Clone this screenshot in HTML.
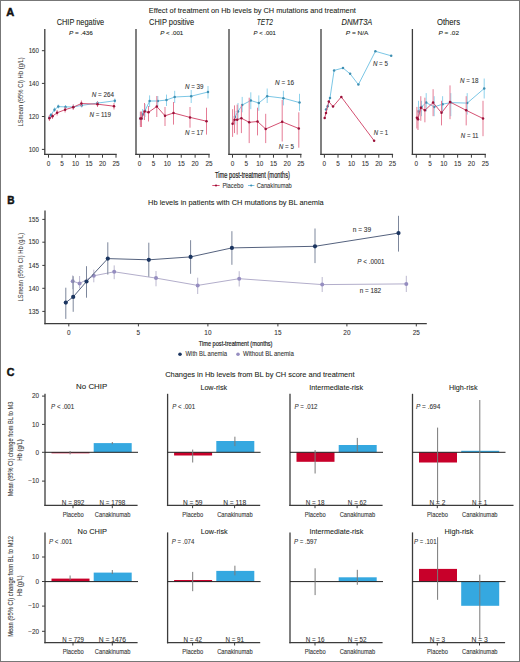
<!DOCTYPE html>
<html><head><meta charset="utf-8"><style>
html,body{margin:0;padding:0;background:#fff;}
svg{display:block;font-family:"Liberation Sans", sans-serif;}
</style></head><body>
<svg width="520" height="662" viewBox="0 0 520 662">
<rect width="520" height="662" fill="#fff"/>
<rect x="0.5" y="0.5" width="519" height="661" fill="none" stroke="#777" stroke-width="1"/>
<text x="6.3" y="15.8" font-size="10.4" text-anchor="start" font-weight="bold" font-style="normal" fill="#111" textLength="8" lengthAdjust="spacingAndGlyphs" stroke="#111" stroke-width="0.45">A</text>
<text x="148.8" y="13.4" font-size="7.7" text-anchor="start" font-weight="normal" font-style="normal" fill="#231f20" textLength="207" lengthAdjust="spacingAndGlyphs" stroke="#231f20" stroke-width="0.15" stroke-opacity="0.6">Effect of treatment on Hb levels by CH mutations and treatment</text>
<text x="56.7" y="24.7" font-size="8.2" text-anchor="start" font-weight="normal" font-style="normal" fill="#231f20" textLength="47.5" lengthAdjust="spacingAndGlyphs" stroke="#231f20" stroke-width="0.15" stroke-opacity="0.6">CHIP negative</text>
<text x="149" y="24.7" font-size="8.2" text-anchor="start" font-weight="normal" font-style="normal" fill="#231f20" textLength="45.2" lengthAdjust="spacingAndGlyphs" stroke="#231f20" stroke-width="0.15" stroke-opacity="0.6">CHIP positive</text>
<text x="256.8" y="24.7" font-size="8.2" text-anchor="start" font-weight="normal" font-style="italic" fill="#231f20" textLength="16.1" lengthAdjust="spacingAndGlyphs" stroke="#231f20" stroke-width="0.15" stroke-opacity="0.6">TET2</text>
<text x="341.5" y="24.7" font-size="8.2" text-anchor="start" font-weight="normal" font-style="italic" fill="#231f20" textLength="30.8" lengthAdjust="spacingAndGlyphs" stroke="#231f20" stroke-width="0.15" stroke-opacity="0.6">DNMT3A</text>
<text x="436.9" y="24.7" font-size="8.2" text-anchor="start" font-weight="normal" font-style="normal" fill="#231f20" textLength="23.1" lengthAdjust="spacingAndGlyphs" stroke="#231f20" stroke-width="0.15" stroke-opacity="0.6">Others</text>
<text x="69" y="34.8" font-size="6.2" text-anchor="start" font-weight="normal" font-style="normal" fill="#231f20" textLength="23.9" lengthAdjust="spacingAndGlyphs" stroke="#231f20" stroke-width="0.15" stroke-opacity="0.6"><tspan font-style="italic">P</tspan> = .436</text>
<text x="160.2" y="34.8" font-size="6.2" text-anchor="start" font-weight="normal" font-style="normal" fill="#231f20" textLength="23.1" lengthAdjust="spacingAndGlyphs" stroke="#231f20" stroke-width="0.15" stroke-opacity="0.6"><tspan font-style="italic">P</tspan> &lt; .001</text>
<text x="253.6" y="34.8" font-size="6.2" text-anchor="start" font-weight="normal" font-style="normal" fill="#231f20" textLength="22.3" lengthAdjust="spacingAndGlyphs" stroke="#231f20" stroke-width="0.15" stroke-opacity="0.6"><tspan font-style="italic">P</tspan> &lt; .001</text>
<text x="345.8" y="34.8" font-size="6.2" text-anchor="start" font-weight="normal" font-style="normal" fill="#231f20" textLength="22.7" lengthAdjust="spacingAndGlyphs" stroke="#231f20" stroke-width="0.15" stroke-opacity="0.6"><tspan font-style="italic">P</tspan> = N/A</text>
<text x="438.5" y="34.8" font-size="6.2" text-anchor="start" font-weight="normal" font-style="normal" fill="#231f20" textLength="20.5" lengthAdjust="spacingAndGlyphs" stroke="#231f20" stroke-width="0.15" stroke-opacity="0.6"><tspan font-style="italic">P</tspan> = .02</text>
<line x1="44.8" y1="29" x2="44.8" y2="154.95000000000002" stroke="#3c3c3c" stroke-width="1.3"/>
<line x1="44.15" y1="154.3" x2="116.7" y2="154.3" stroke="#3c3c3c" stroke-width="1.3"/>
<line x1="48.5" y1="154.3" x2="48.5" y2="157.70000000000002" stroke="#3c3c3c" stroke-width="1.0"/>
<text x="48.5" y="166.0" font-size="6.4" text-anchor="middle" font-weight="normal" font-style="normal" fill="#333" stroke="#333" stroke-width="0.15" stroke-opacity="0.6">0</text>
<line x1="62.0" y1="154.3" x2="62.0" y2="157.70000000000002" stroke="#3c3c3c" stroke-width="1.0"/>
<text x="62.0" y="166.0" font-size="6.4" text-anchor="middle" font-weight="normal" font-style="normal" fill="#333" stroke="#333" stroke-width="0.15" stroke-opacity="0.6">5</text>
<line x1="75.5" y1="154.3" x2="75.5" y2="157.70000000000002" stroke="#3c3c3c" stroke-width="1.0"/>
<text x="75.5" y="166.0" font-size="6.4" text-anchor="middle" font-weight="normal" font-style="normal" fill="#333" stroke="#333" stroke-width="0.15" stroke-opacity="0.6">10</text>
<line x1="89.0" y1="154.3" x2="89.0" y2="157.70000000000002" stroke="#3c3c3c" stroke-width="1.0"/>
<text x="89.0" y="166.0" font-size="6.4" text-anchor="middle" font-weight="normal" font-style="normal" fill="#333" stroke="#333" stroke-width="0.15" stroke-opacity="0.6">15</text>
<line x1="102.5" y1="154.3" x2="102.5" y2="157.70000000000002" stroke="#3c3c3c" stroke-width="1.0"/>
<text x="102.5" y="166.0" font-size="6.4" text-anchor="middle" font-weight="normal" font-style="normal" fill="#333" stroke="#333" stroke-width="0.15" stroke-opacity="0.6">20</text>
<line x1="116.0" y1="154.3" x2="116.0" y2="157.70000000000002" stroke="#3c3c3c" stroke-width="1.0"/>
<text x="116.0" y="166.0" font-size="6.4" text-anchor="middle" font-weight="normal" font-style="normal" fill="#333" stroke="#333" stroke-width="0.15" stroke-opacity="0.6">25</text>
<line x1="136.0" y1="29" x2="136.0" y2="154.95000000000002" stroke="#3c3c3c" stroke-width="1.3"/>
<line x1="135.35" y1="154.3" x2="209.7" y2="154.3" stroke="#3c3c3c" stroke-width="1.3"/>
<line x1="139.6" y1="154.3" x2="139.6" y2="157.70000000000002" stroke="#3c3c3c" stroke-width="1.0"/>
<text x="139.6" y="166.0" font-size="6.4" text-anchor="middle" font-weight="normal" font-style="normal" fill="#333" stroke="#333" stroke-width="0.15" stroke-opacity="0.6">0</text>
<line x1="153.48" y1="154.3" x2="153.48" y2="157.70000000000002" stroke="#3c3c3c" stroke-width="1.0"/>
<text x="153.48" y="166.0" font-size="6.4" text-anchor="middle" font-weight="normal" font-style="normal" fill="#333" stroke="#333" stroke-width="0.15" stroke-opacity="0.6">5</text>
<line x1="167.35999999999999" y1="154.3" x2="167.35999999999999" y2="157.70000000000002" stroke="#3c3c3c" stroke-width="1.0"/>
<text x="167.35999999999999" y="166.0" font-size="6.4" text-anchor="middle" font-weight="normal" font-style="normal" fill="#333" stroke="#333" stroke-width="0.15" stroke-opacity="0.6">10</text>
<line x1="181.24" y1="154.3" x2="181.24" y2="157.70000000000002" stroke="#3c3c3c" stroke-width="1.0"/>
<text x="181.24" y="166.0" font-size="6.4" text-anchor="middle" font-weight="normal" font-style="normal" fill="#333" stroke="#333" stroke-width="0.15" stroke-opacity="0.6">15</text>
<line x1="195.12" y1="154.3" x2="195.12" y2="157.70000000000002" stroke="#3c3c3c" stroke-width="1.0"/>
<text x="195.12" y="166.0" font-size="6.4" text-anchor="middle" font-weight="normal" font-style="normal" fill="#333" stroke="#333" stroke-width="0.15" stroke-opacity="0.6">20</text>
<line x1="209.0" y1="154.3" x2="209.0" y2="157.70000000000002" stroke="#3c3c3c" stroke-width="1.0"/>
<text x="209.0" y="166.0" font-size="6.4" text-anchor="middle" font-weight="normal" font-style="normal" fill="#333" stroke="#333" stroke-width="0.15" stroke-opacity="0.6">25</text>
<line x1="229.0" y1="29" x2="229.0" y2="154.95000000000002" stroke="#3c3c3c" stroke-width="1.3"/>
<line x1="228.35" y1="154.3" x2="301.5" y2="154.3" stroke="#3c3c3c" stroke-width="1.3"/>
<line x1="232.5" y1="154.3" x2="232.5" y2="157.70000000000002" stroke="#3c3c3c" stroke-width="1.0"/>
<text x="232.5" y="166.0" font-size="6.4" text-anchor="middle" font-weight="normal" font-style="normal" fill="#333" stroke="#333" stroke-width="0.15" stroke-opacity="0.6">0</text>
<line x1="246.16" y1="154.3" x2="246.16" y2="157.70000000000002" stroke="#3c3c3c" stroke-width="1.0"/>
<text x="246.16" y="166.0" font-size="6.4" text-anchor="middle" font-weight="normal" font-style="normal" fill="#333" stroke="#333" stroke-width="0.15" stroke-opacity="0.6">5</text>
<line x1="259.82" y1="154.3" x2="259.82" y2="157.70000000000002" stroke="#3c3c3c" stroke-width="1.0"/>
<text x="259.82" y="166.0" font-size="6.4" text-anchor="middle" font-weight="normal" font-style="normal" fill="#333" stroke="#333" stroke-width="0.15" stroke-opacity="0.6">10</text>
<line x1="273.48" y1="154.3" x2="273.48" y2="157.70000000000002" stroke="#3c3c3c" stroke-width="1.0"/>
<text x="273.48" y="166.0" font-size="6.4" text-anchor="middle" font-weight="normal" font-style="normal" fill="#333" stroke="#333" stroke-width="0.15" stroke-opacity="0.6">15</text>
<line x1="287.14" y1="154.3" x2="287.14" y2="157.70000000000002" stroke="#3c3c3c" stroke-width="1.0"/>
<text x="287.14" y="166.0" font-size="6.4" text-anchor="middle" font-weight="normal" font-style="normal" fill="#333" stroke="#333" stroke-width="0.15" stroke-opacity="0.6">20</text>
<line x1="300.8" y1="154.3" x2="300.8" y2="157.70000000000002" stroke="#3c3c3c" stroke-width="1.0"/>
<text x="300.8" y="166.0" font-size="6.4" text-anchor="middle" font-weight="normal" font-style="normal" fill="#333" stroke="#333" stroke-width="0.15" stroke-opacity="0.6">25</text>
<line x1="321.0" y1="29" x2="321.0" y2="154.95000000000002" stroke="#3c3c3c" stroke-width="1.3"/>
<line x1="320.35" y1="154.3" x2="393.09999999999997" y2="154.3" stroke="#3c3c3c" stroke-width="1.3"/>
<line x1="324.4" y1="154.3" x2="324.4" y2="157.70000000000002" stroke="#3c3c3c" stroke-width="1.0"/>
<text x="324.4" y="166.0" font-size="6.4" text-anchor="middle" font-weight="normal" font-style="normal" fill="#333" stroke="#333" stroke-width="0.15" stroke-opacity="0.6">0</text>
<line x1="338.0" y1="154.3" x2="338.0" y2="157.70000000000002" stroke="#3c3c3c" stroke-width="1.0"/>
<text x="338.0" y="166.0" font-size="6.4" text-anchor="middle" font-weight="normal" font-style="normal" fill="#333" stroke="#333" stroke-width="0.15" stroke-opacity="0.6">5</text>
<line x1="351.59999999999997" y1="154.3" x2="351.59999999999997" y2="157.70000000000002" stroke="#3c3c3c" stroke-width="1.0"/>
<text x="351.59999999999997" y="166.0" font-size="6.4" text-anchor="middle" font-weight="normal" font-style="normal" fill="#333" stroke="#333" stroke-width="0.15" stroke-opacity="0.6">10</text>
<line x1="365.2" y1="154.3" x2="365.2" y2="157.70000000000002" stroke="#3c3c3c" stroke-width="1.0"/>
<text x="365.2" y="166.0" font-size="6.4" text-anchor="middle" font-weight="normal" font-style="normal" fill="#333" stroke="#333" stroke-width="0.15" stroke-opacity="0.6">15</text>
<line x1="378.79999999999995" y1="154.3" x2="378.79999999999995" y2="157.70000000000002" stroke="#3c3c3c" stroke-width="1.0"/>
<text x="378.79999999999995" y="166.0" font-size="6.4" text-anchor="middle" font-weight="normal" font-style="normal" fill="#333" stroke="#333" stroke-width="0.15" stroke-opacity="0.6">20</text>
<line x1="392.4" y1="154.3" x2="392.4" y2="157.70000000000002" stroke="#3c3c3c" stroke-width="1.0"/>
<text x="392.4" y="166.0" font-size="6.4" text-anchor="middle" font-weight="normal" font-style="normal" fill="#333" stroke="#333" stroke-width="0.15" stroke-opacity="0.6">25</text>
<line x1="412.4" y1="29" x2="412.4" y2="154.95000000000002" stroke="#3c3c3c" stroke-width="1.3"/>
<line x1="411.75" y1="154.3" x2="485.9" y2="154.3" stroke="#3c3c3c" stroke-width="1.3"/>
<line x1="416.3" y1="154.3" x2="416.3" y2="157.70000000000002" stroke="#3c3c3c" stroke-width="1.0"/>
<text x="416.3" y="166.0" font-size="6.4" text-anchor="middle" font-weight="normal" font-style="normal" fill="#333" stroke="#333" stroke-width="0.15" stroke-opacity="0.6">0</text>
<line x1="430.08" y1="154.3" x2="430.08" y2="157.70000000000002" stroke="#3c3c3c" stroke-width="1.0"/>
<text x="430.08" y="166.0" font-size="6.4" text-anchor="middle" font-weight="normal" font-style="normal" fill="#333" stroke="#333" stroke-width="0.15" stroke-opacity="0.6">5</text>
<line x1="443.86" y1="154.3" x2="443.86" y2="157.70000000000002" stroke="#3c3c3c" stroke-width="1.0"/>
<text x="443.86" y="166.0" font-size="6.4" text-anchor="middle" font-weight="normal" font-style="normal" fill="#333" stroke="#333" stroke-width="0.15" stroke-opacity="0.6">10</text>
<line x1="457.64" y1="154.3" x2="457.64" y2="157.70000000000002" stroke="#3c3c3c" stroke-width="1.0"/>
<text x="457.64" y="166.0" font-size="6.4" text-anchor="middle" font-weight="normal" font-style="normal" fill="#333" stroke="#333" stroke-width="0.15" stroke-opacity="0.6">15</text>
<line x1="471.42" y1="154.3" x2="471.42" y2="157.70000000000002" stroke="#3c3c3c" stroke-width="1.0"/>
<text x="471.42" y="166.0" font-size="6.4" text-anchor="middle" font-weight="normal" font-style="normal" fill="#333" stroke="#333" stroke-width="0.15" stroke-opacity="0.6">20</text>
<line x1="485.2" y1="154.3" x2="485.2" y2="157.70000000000002" stroke="#3c3c3c" stroke-width="1.0"/>
<text x="485.2" y="166.0" font-size="6.4" text-anchor="middle" font-weight="normal" font-style="normal" fill="#333" stroke="#333" stroke-width="0.15" stroke-opacity="0.6">25</text>
<line x1="41.9" y1="50.7" x2="44.8" y2="50.7" stroke="#3c3c3c" stroke-width="1.0"/>
<text x="39" y="52.900000000000006" font-size="6.4" text-anchor="end" font-weight="normal" font-style="normal" fill="#333" textLength="10.3" lengthAdjust="spacingAndGlyphs" stroke="#333" stroke-width="0.15" stroke-opacity="0.6">160</text>
<line x1="41.9" y1="83.4" x2="44.8" y2="83.4" stroke="#3c3c3c" stroke-width="1.0"/>
<text x="39" y="85.60000000000001" font-size="6.4" text-anchor="end" font-weight="normal" font-style="normal" fill="#333" textLength="10.3" lengthAdjust="spacingAndGlyphs" stroke="#333" stroke-width="0.15" stroke-opacity="0.6">140</text>
<line x1="41.9" y1="116.5" x2="44.8" y2="116.5" stroke="#3c3c3c" stroke-width="1.0"/>
<text x="39" y="118.7" font-size="6.4" text-anchor="end" font-weight="normal" font-style="normal" fill="#333" textLength="10.3" lengthAdjust="spacingAndGlyphs" stroke="#333" stroke-width="0.15" stroke-opacity="0.6">120</text>
<line x1="41.9" y1="149.4" x2="44.8" y2="149.4" stroke="#3c3c3c" stroke-width="1.0"/>
<text x="39" y="151.6" font-size="6.4" text-anchor="end" font-weight="normal" font-style="normal" fill="#333" textLength="10.3" lengthAdjust="spacingAndGlyphs" stroke="#333" stroke-width="0.15" stroke-opacity="0.6">100</text>
<text x="23.5" y="91.9" font-size="7.6" text-anchor="middle" font-weight="normal" font-style="normal" fill="#333" textLength="69.3" lengthAdjust="spacingAndGlyphs" transform="rotate(-90 23.5 91.9)" stroke="none">LSmean (95% CI) Hb (g/L)</text>
<line x1="49.4" y1="115.5" x2="49.4" y2="119.5" stroke="#8fd2ec" stroke-width="1.0"/>
<line x1="50.9" y1="113" x2="50.9" y2="117" stroke="#8fd2ec" stroke-width="1.0"/>
<line x1="54.5" y1="107.5" x2="54.5" y2="112" stroke="#8fd2ec" stroke-width="1.0"/>
<line x1="58.3" y1="104.5" x2="58.3" y2="108.5" stroke="#8fd2ec" stroke-width="1.0"/>
<line x1="65.5" y1="105" x2="65.5" y2="109" stroke="#8fd2ec" stroke-width="1.0"/>
<line x1="73.5" y1="104.5" x2="73.5" y2="109" stroke="#8fd2ec" stroke-width="1.0"/>
<line x1="81.7" y1="103" x2="81.7" y2="107.5" stroke="#8fd2ec" stroke-width="1.0"/>
<line x1="97.5" y1="101" x2="97.5" y2="105" stroke="#8fd2ec" stroke-width="1.0"/>
<line x1="114.8" y1="98.5" x2="114.8" y2="103" stroke="#8fd2ec" stroke-width="1.0"/>
<polyline points="49.4,117.5 50.9,114.9 54.5,109.7 58.3,106.6 65.5,106.9 73.5,106.9 81.7,105.4 97.5,103.1 114.8,100.8" fill="none" stroke="#6cc0e2" stroke-width="0.9" stroke-opacity="1" stroke-linejoin="round"/>
<circle cx="49.4" cy="117.5" r="1.25" fill="#3f8fb2" fill-opacity="1"/>
<circle cx="50.9" cy="114.9" r="1.25" fill="#3f8fb2" fill-opacity="1"/>
<circle cx="54.5" cy="109.7" r="1.25" fill="#3f8fb2" fill-opacity="1"/>
<circle cx="58.3" cy="106.6" r="1.25" fill="#3f8fb2" fill-opacity="1"/>
<circle cx="65.5" cy="106.9" r="1.25" fill="#3f8fb2" fill-opacity="1"/>
<circle cx="73.5" cy="106.9" r="1.25" fill="#3f8fb2" fill-opacity="1"/>
<circle cx="81.7" cy="105.4" r="1.25" fill="#3f8fb2" fill-opacity="1"/>
<circle cx="97.5" cy="103.1" r="1.25" fill="#3f8fb2" fill-opacity="1"/>
<circle cx="114.8" cy="100.8" r="1.25" fill="#3f8fb2" fill-opacity="1"/>
<line x1="49.4" y1="115" x2="49.4" y2="121" stroke="#e57c95" stroke-width="1.0"/>
<line x1="52.5" y1="113.5" x2="52.5" y2="119" stroke="#e57c95" stroke-width="1.0"/>
<line x1="57.1" y1="110" x2="57.1" y2="115.5" stroke="#e57c95" stroke-width="1.0"/>
<line x1="65.1" y1="107" x2="65.1" y2="112.5" stroke="#e57c95" stroke-width="1.0"/>
<line x1="73.2" y1="104.5" x2="73.2" y2="110" stroke="#e57c95" stroke-width="1.0"/>
<line x1="81.4" y1="100.5" x2="81.4" y2="106.5" stroke="#e57c95" stroke-width="1.0"/>
<line x1="97.5" y1="101.5" x2="97.5" y2="107" stroke="#e57c95" stroke-width="1.0"/>
<line x1="114" y1="103" x2="114" y2="109.5" stroke="#e57c95" stroke-width="1.0"/>
<polyline points="49.4,118.2 52.5,116.2 57.1,112.8 65.1,109.7 73.2,107.2 81.4,103.5 97.5,104.2 114,106.2" fill="none" stroke="#cf3d62" stroke-width="0.9" stroke-opacity="1" stroke-linejoin="round"/>
<circle cx="49.4" cy="118.2" r="1.25" fill="#9a1038" fill-opacity="1"/>
<circle cx="52.5" cy="116.2" r="1.25" fill="#9a1038" fill-opacity="1"/>
<circle cx="57.1" cy="112.8" r="1.25" fill="#9a1038" fill-opacity="1"/>
<circle cx="65.1" cy="109.7" r="1.25" fill="#9a1038" fill-opacity="1"/>
<circle cx="73.2" cy="107.2" r="1.25" fill="#9a1038" fill-opacity="1"/>
<circle cx="81.4" cy="103.5" r="1.25" fill="#9a1038" fill-opacity="1"/>
<circle cx="97.5" cy="104.2" r="1.25" fill="#9a1038" fill-opacity="1"/>
<circle cx="114" cy="106.2" r="1.25" fill="#9a1038" fill-opacity="1"/>
<line x1="140.4" y1="112" x2="140.4" y2="125" stroke="#8fd2ec" stroke-width="1.0"/>
<line x1="142.7" y1="109" x2="142.7" y2="120" stroke="#8fd2ec" stroke-width="1.0"/>
<line x1="145" y1="104" x2="145" y2="117" stroke="#8fd2ec" stroke-width="1.0"/>
<line x1="149.6" y1="95.4" x2="149.6" y2="107" stroke="#8fd2ec" stroke-width="1.0"/>
<line x1="157.8" y1="96" x2="157.8" y2="106" stroke="#8fd2ec" stroke-width="1.0"/>
<line x1="166.5" y1="94.6" x2="166.5" y2="106" stroke="#8fd2ec" stroke-width="1.0"/>
<line x1="174.7" y1="90.8" x2="174.7" y2="103" stroke="#8fd2ec" stroke-width="1.0"/>
<line x1="191.2" y1="90" x2="191.2" y2="103" stroke="#8fd2ec" stroke-width="1.0"/>
<line x1="208" y1="86" x2="208" y2="98.5" stroke="#8fd2ec" stroke-width="1.0"/>
<polyline points="140.4,118.5 142.7,114.6 145,110.8 149.6,101 157.8,101 166.5,100 174.7,97 191.2,96.2 208,92" fill="none" stroke="#6cc0e2" stroke-width="0.9" stroke-opacity="1" stroke-linejoin="round"/>
<circle cx="140.4" cy="118.5" r="1.25" fill="#3f8fb2" fill-opacity="1"/>
<circle cx="142.7" cy="114.6" r="1.25" fill="#3f8fb2" fill-opacity="1"/>
<circle cx="145" cy="110.8" r="1.25" fill="#3f8fb2" fill-opacity="1"/>
<circle cx="149.6" cy="101" r="1.25" fill="#3f8fb2" fill-opacity="1"/>
<circle cx="157.8" cy="101" r="1.25" fill="#3f8fb2" fill-opacity="1"/>
<circle cx="166.5" cy="100" r="1.25" fill="#3f8fb2" fill-opacity="1"/>
<circle cx="174.7" cy="97" r="1.25" fill="#3f8fb2" fill-opacity="1"/>
<circle cx="191.2" cy="96.2" r="1.25" fill="#3f8fb2" fill-opacity="1"/>
<circle cx="208" cy="92" r="1.25" fill="#3f8fb2" fill-opacity="1"/>
<line x1="140.4" y1="111.5" x2="140.4" y2="127" stroke="#e57c95" stroke-width="1.0"/>
<line x1="141.5" y1="111.5" x2="141.5" y2="127" stroke="#e57c95" stroke-width="1.0"/>
<line x1="144.5" y1="103" x2="144.5" y2="120" stroke="#e57c95" stroke-width="1.0"/>
<line x1="148.5" y1="106" x2="148.5" y2="121.5" stroke="#e57c95" stroke-width="1.0"/>
<line x1="156.8" y1="96" x2="156.8" y2="117" stroke="#e57c95" stroke-width="1.0"/>
<line x1="165" y1="107" x2="165" y2="126" stroke="#e57c95" stroke-width="1.0"/>
<line x1="173.5" y1="102" x2="173.5" y2="124.6" stroke="#e57c95" stroke-width="1.0"/>
<line x1="190" y1="107" x2="190" y2="127.7" stroke="#e57c95" stroke-width="1.0"/>
<line x1="206.5" y1="107.7" x2="206.5" y2="134.6" stroke="#e57c95" stroke-width="1.0"/>
<polyline points="140.4,118.5 141.5,118.5 144.5,111.5 148.5,112.3 156.8,106.5 165,115.8 173.5,113 190,117.4 206.5,121.2" fill="none" stroke="#cf3d62" stroke-width="0.9" stroke-opacity="1" stroke-linejoin="round"/>
<circle cx="140.4" cy="118.5" r="1.25" fill="#9a1038" fill-opacity="1"/>
<circle cx="141.5" cy="118.5" r="1.25" fill="#9a1038" fill-opacity="1"/>
<circle cx="144.5" cy="111.5" r="1.25" fill="#9a1038" fill-opacity="1"/>
<circle cx="148.5" cy="112.3" r="1.25" fill="#9a1038" fill-opacity="1"/>
<circle cx="156.8" cy="106.5" r="1.25" fill="#9a1038" fill-opacity="1"/>
<circle cx="165" cy="115.8" r="1.25" fill="#9a1038" fill-opacity="1"/>
<circle cx="173.5" cy="113" r="1.25" fill="#9a1038" fill-opacity="1"/>
<circle cx="190" cy="117.4" r="1.25" fill="#9a1038" fill-opacity="1"/>
<circle cx="206.5" cy="121.2" r="1.25" fill="#9a1038" fill-opacity="1"/>
<line x1="234.9" y1="110.8" x2="234.9" y2="124.6" stroke="#8fd2ec" stroke-width="1.0"/>
<line x1="238" y1="103" x2="238" y2="120" stroke="#8fd2ec" stroke-width="1.0"/>
<line x1="242.2" y1="96.9" x2="242.2" y2="112.3" stroke="#8fd2ec" stroke-width="1.0"/>
<line x1="250.8" y1="92.3" x2="250.8" y2="109.2" stroke="#8fd2ec" stroke-width="1.0"/>
<line x1="258.8" y1="95.4" x2="258.8" y2="110.8" stroke="#8fd2ec" stroke-width="1.0"/>
<line x1="267.2" y1="88.5" x2="267.2" y2="103" stroke="#8fd2ec" stroke-width="1.0"/>
<line x1="283.4" y1="90.8" x2="283.4" y2="105.4" stroke="#8fd2ec" stroke-width="1.0"/>
<line x1="299.5" y1="93.8" x2="299.5" y2="110.8" stroke="#8fd2ec" stroke-width="1.0"/>
<polyline points="234.9,116.9 238,111.5 242.2,105 250.8,100.5 258.8,103 267.2,96.2 283.4,98.2 299.5,102.6" fill="none" stroke="#6cc0e2" stroke-width="0.9" stroke-opacity="1" stroke-linejoin="round"/>
<circle cx="234.9" cy="116.9" r="1.25" fill="#3f8fb2" fill-opacity="1"/>
<circle cx="238" cy="111.5" r="1.25" fill="#3f8fb2" fill-opacity="1"/>
<circle cx="242.2" cy="105" r="1.25" fill="#3f8fb2" fill-opacity="1"/>
<circle cx="250.8" cy="100.5" r="1.25" fill="#3f8fb2" fill-opacity="1"/>
<circle cx="258.8" cy="103" r="1.25" fill="#3f8fb2" fill-opacity="1"/>
<circle cx="267.2" cy="96.2" r="1.25" fill="#3f8fb2" fill-opacity="1"/>
<circle cx="283.4" cy="98.2" r="1.25" fill="#3f8fb2" fill-opacity="1"/>
<circle cx="299.5" cy="102.6" r="1.25" fill="#3f8fb2" fill-opacity="1"/>
<line x1="232.6" y1="109.2" x2="232.6" y2="136.9" stroke="#e57c95" stroke-width="1.0"/>
<line x1="234.5" y1="105.4" x2="234.5" y2="133.1" stroke="#e57c95" stroke-width="1.0"/>
<line x1="237.2" y1="104.6" x2="237.2" y2="134.6" stroke="#e57c95" stroke-width="1.0"/>
<line x1="241.4" y1="104.6" x2="241.4" y2="133.1" stroke="#e57c95" stroke-width="1.0"/>
<line x1="249.2" y1="97.7" x2="249.2" y2="143.1" stroke="#e57c95" stroke-width="1.0"/>
<line x1="257.5" y1="107.7" x2="257.5" y2="135.4" stroke="#e57c95" stroke-width="1.0"/>
<line x1="265.7" y1="113.8" x2="265.7" y2="143.1" stroke="#e57c95" stroke-width="1.0"/>
<line x1="282.2" y1="100" x2="282.2" y2="141.5" stroke="#e57c95" stroke-width="1.0"/>
<line x1="298.8" y1="112.3" x2="298.8" y2="147.7" stroke="#e57c95" stroke-width="1.0"/>
<polyline points="232.6,123.8 234.5,119.7 237.2,119.7 241.4,118.2 249.2,122.3 257.5,121.5 265.7,129 282.2,121.8 298.8,128.5" fill="none" stroke="#cf3d62" stroke-width="0.9" stroke-opacity="1" stroke-linejoin="round"/>
<circle cx="232.6" cy="123.8" r="1.25" fill="#9a1038" fill-opacity="1"/>
<circle cx="234.5" cy="119.7" r="1.25" fill="#9a1038" fill-opacity="1"/>
<circle cx="237.2" cy="119.7" r="1.25" fill="#9a1038" fill-opacity="1"/>
<circle cx="241.4" cy="118.2" r="1.25" fill="#9a1038" fill-opacity="1"/>
<circle cx="249.2" cy="122.3" r="1.25" fill="#9a1038" fill-opacity="1"/>
<circle cx="257.5" cy="121.5" r="1.25" fill="#9a1038" fill-opacity="1"/>
<circle cx="265.7" cy="129" r="1.25" fill="#9a1038" fill-opacity="1"/>
<circle cx="282.2" cy="121.8" r="1.25" fill="#9a1038" fill-opacity="1"/>
<circle cx="298.8" cy="128.5" r="1.25" fill="#9a1038" fill-opacity="1"/>
<polyline points="326,109.5 327.7,106.2 330,97.9 334.1,70.4 343,68 350.1,73.8 358.4,84.6 375.4,51.3 391.2,55.8" fill="none" stroke="#6cc0e2" stroke-width="0.9" stroke-opacity="1" stroke-linejoin="round"/>
<circle cx="326" cy="109.5" r="1.25" fill="#3f8fb2" fill-opacity="1"/>
<circle cx="327.7" cy="106.2" r="1.25" fill="#3f8fb2" fill-opacity="1"/>
<circle cx="330" cy="97.9" r="1.25" fill="#3f8fb2" fill-opacity="1"/>
<circle cx="334.1" cy="70.4" r="1.25" fill="#3f8fb2" fill-opacity="1"/>
<circle cx="343" cy="68" r="1.25" fill="#3f8fb2" fill-opacity="1"/>
<circle cx="350.1" cy="73.8" r="1.25" fill="#3f8fb2" fill-opacity="1"/>
<circle cx="358.4" cy="84.6" r="1.25" fill="#3f8fb2" fill-opacity="1"/>
<circle cx="375.4" cy="51.3" r="1.25" fill="#3f8fb2" fill-opacity="1"/>
<circle cx="391.2" cy="55.8" r="1.25" fill="#3f8fb2" fill-opacity="1"/>
<polyline points="324.7,117.9 326,112.9 328.8,101.6 333,106.6 341.3,96.9 374.1,140.7" fill="none" stroke="#cf3d62" stroke-width="0.9" stroke-opacity="1" stroke-linejoin="round"/>
<circle cx="324.7" cy="117.9" r="1.25" fill="#9a1038" fill-opacity="1"/>
<circle cx="326" cy="112.9" r="1.25" fill="#9a1038" fill-opacity="1"/>
<circle cx="328.8" cy="101.6" r="1.25" fill="#9a1038" fill-opacity="1"/>
<circle cx="333" cy="106.6" r="1.25" fill="#9a1038" fill-opacity="1"/>
<circle cx="341.3" cy="96.9" r="1.25" fill="#9a1038" fill-opacity="1"/>
<circle cx="374.1" cy="140.7" r="1.25" fill="#9a1038" fill-opacity="1"/>
<line x1="418.5" y1="100.8" x2="418.5" y2="120.8" stroke="#8fd2ec" stroke-width="1.0"/>
<line x1="421.5" y1="100.8" x2="421.5" y2="116.2" stroke="#8fd2ec" stroke-width="1.0"/>
<line x1="426.2" y1="93.1" x2="426.2" y2="111.5" stroke="#8fd2ec" stroke-width="1.0"/>
<line x1="434.2" y1="96.2" x2="434.2" y2="116.2" stroke="#8fd2ec" stroke-width="1.0"/>
<line x1="442.6" y1="96.2" x2="442.6" y2="113.1" stroke="#8fd2ec" stroke-width="1.0"/>
<line x1="450.8" y1="93.1" x2="450.8" y2="116.2" stroke="#8fd2ec" stroke-width="1.0"/>
<line x1="467.2" y1="93.1" x2="467.2" y2="114.6" stroke="#8fd2ec" stroke-width="1.0"/>
<line x1="484.2" y1="78.5" x2="484.2" y2="98.5" stroke="#8fd2ec" stroke-width="1.0"/>
<polyline points="418.5,111.5 421.5,106.9 426.2,102.6 434.2,106.9 442.6,104.2 450.8,102.6 467.2,103.1 484.2,88.5" fill="none" stroke="#6cc0e2" stroke-width="0.9" stroke-opacity="1" stroke-linejoin="round"/>
<circle cx="418.5" cy="111.5" r="1.25" fill="#3f8fb2" fill-opacity="1"/>
<circle cx="421.5" cy="106.9" r="1.25" fill="#3f8fb2" fill-opacity="1"/>
<circle cx="426.2" cy="102.6" r="1.25" fill="#3f8fb2" fill-opacity="1"/>
<circle cx="434.2" cy="106.9" r="1.25" fill="#3f8fb2" fill-opacity="1"/>
<circle cx="442.6" cy="104.2" r="1.25" fill="#3f8fb2" fill-opacity="1"/>
<circle cx="450.8" cy="102.6" r="1.25" fill="#3f8fb2" fill-opacity="1"/>
<circle cx="467.2" cy="103.1" r="1.25" fill="#3f8fb2" fill-opacity="1"/>
<circle cx="484.2" cy="88.5" r="1.25" fill="#3f8fb2" fill-opacity="1"/>
<line x1="416.9" y1="106.9" x2="416.9" y2="128.5" stroke="#e57c95" stroke-width="1.0"/>
<line x1="418" y1="110" x2="418" y2="130" stroke="#e57c95" stroke-width="1.0"/>
<line x1="420.8" y1="96.2" x2="420.8" y2="120.8" stroke="#e57c95" stroke-width="1.0"/>
<line x1="424.9" y1="97.7" x2="424.9" y2="122.3" stroke="#e57c95" stroke-width="1.0"/>
<line x1="433.1" y1="89.2" x2="433.1" y2="116.2" stroke="#e57c95" stroke-width="1.0"/>
<line x1="441.5" y1="100.8" x2="441.5" y2="125.4" stroke="#e57c95" stroke-width="1.0"/>
<line x1="450" y1="85.4" x2="450" y2="119.2" stroke="#e57c95" stroke-width="1.0"/>
<line x1="466.2" y1="96.2" x2="466.2" y2="125.4" stroke="#e57c95" stroke-width="1.0"/>
<line x1="483" y1="100.8" x2="483" y2="136.2" stroke="#e57c95" stroke-width="1.0"/>
<polyline points="416.9,117.7 418,119.2 420.8,107.7 424.9,110.3 433.1,102.6 441.5,112.8 450,102 466.2,110.3 483,118.5" fill="none" stroke="#cf3d62" stroke-width="0.9" stroke-opacity="1" stroke-linejoin="round"/>
<circle cx="416.9" cy="117.7" r="1.25" fill="#9a1038" fill-opacity="1"/>
<circle cx="418" cy="119.2" r="1.25" fill="#9a1038" fill-opacity="1"/>
<circle cx="420.8" cy="107.7" r="1.25" fill="#9a1038" fill-opacity="1"/>
<circle cx="424.9" cy="110.3" r="1.25" fill="#9a1038" fill-opacity="1"/>
<circle cx="433.1" cy="102.6" r="1.25" fill="#9a1038" fill-opacity="1"/>
<circle cx="441.5" cy="112.8" r="1.25" fill="#9a1038" fill-opacity="1"/>
<circle cx="450" cy="102" r="1.25" fill="#9a1038" fill-opacity="1"/>
<circle cx="466.2" cy="110.3" r="1.25" fill="#9a1038" fill-opacity="1"/>
<circle cx="483" cy="118.5" r="1.25" fill="#9a1038" fill-opacity="1"/>
<text x="91.7" y="96.6" font-size="6.5" text-anchor="start" font-weight="normal" font-style="normal" fill="#333" textLength="22.3" lengthAdjust="spacingAndGlyphs" stroke="#333" stroke-width="0.15" stroke-opacity="0.6"><tspan font-style="italic">N</tspan> = 264</text>
<text x="89.4" y="116.6" font-size="6.5" text-anchor="start" font-weight="normal" font-style="normal" fill="#333" textLength="21.6" lengthAdjust="spacingAndGlyphs" stroke="#333" stroke-width="0.15" stroke-opacity="0.6"><tspan font-style="italic">N</tspan> = 119</text>
<text x="185" y="89.2" font-size="6.5" text-anchor="start" font-weight="normal" font-style="normal" fill="#333" textLength="18.5" lengthAdjust="spacingAndGlyphs" stroke="#333" stroke-width="0.15" stroke-opacity="0.6"><tspan font-style="italic">N</tspan> = 39</text>
<text x="185" y="134.60000000000002" font-size="6.5" text-anchor="start" font-weight="normal" font-style="normal" fill="#333" textLength="18.5" lengthAdjust="spacingAndGlyphs" stroke="#333" stroke-width="0.15" stroke-opacity="0.6"><tspan font-style="italic">N</tspan> = 17</text>
<text x="275" y="84.89999999999999" font-size="6.5" text-anchor="start" font-weight="normal" font-style="normal" fill="#333" textLength="19" lengthAdjust="spacingAndGlyphs" stroke="#333" stroke-width="0.15" stroke-opacity="0.6"><tspan font-style="italic">N</tspan> = 16</text>
<text x="278.8" y="148.8" font-size="6.5" text-anchor="start" font-weight="normal" font-style="normal" fill="#333" textLength="15.2" lengthAdjust="spacingAndGlyphs" stroke="#333" stroke-width="0.15" stroke-opacity="0.6"><tspan font-style="italic">N</tspan> = 5</text>
<text x="372.9" y="65.6" font-size="6.5" text-anchor="start" font-weight="normal" font-style="normal" fill="#333" textLength="15" lengthAdjust="spacingAndGlyphs" stroke="#333" stroke-width="0.15" stroke-opacity="0.6"><tspan font-style="italic">N</tspan> = 5</text>
<text x="373.7" y="134.60000000000002" font-size="6.5" text-anchor="start" font-weight="normal" font-style="normal" fill="#333" textLength="14.5" lengthAdjust="spacingAndGlyphs" stroke="#333" stroke-width="0.15" stroke-opacity="0.6"><tspan font-style="italic">N</tspan> = 1</text>
<text x="460" y="83.3" font-size="6.5" text-anchor="start" font-weight="normal" font-style="normal" fill="#333" textLength="18.5" lengthAdjust="spacingAndGlyphs" stroke="#333" stroke-width="0.15" stroke-opacity="0.6"><tspan font-style="italic">N</tspan> = 18</text>
<text x="460.8" y="137.70000000000002" font-size="6.5" text-anchor="start" font-weight="normal" font-style="normal" fill="#333" textLength="17.7" lengthAdjust="spacingAndGlyphs" stroke="#333" stroke-width="0.15" stroke-opacity="0.6"><tspan font-style="italic">N</tspan> = 11</text>
<text x="215" y="177.8" font-size="8.2" text-anchor="start" font-weight="normal" font-style="normal" fill="#222" textLength="75" lengthAdjust="spacingAndGlyphs" stroke="#222" stroke-width="0.2">Time post-treatment (months)</text>
<line x1="212.3" y1="185.5" x2="219.6" y2="185.5" stroke="#cf3d62" stroke-width="0.9"/>
<circle cx="216" cy="185.5" r="1.1" fill="#9a1038" fill-opacity="1"/>
<text x="222.4" y="188.0" font-size="7.2" text-anchor="start" font-weight="normal" font-style="normal" fill="#333" textLength="21" lengthAdjust="spacingAndGlyphs" stroke="#333" stroke-width="0.15" stroke-opacity="0.6">Placebo</text>
<line x1="248" y1="185.5" x2="254.4" y2="185.5" stroke="#6cc0e2" stroke-width="0.9"/>
<circle cx="251.2" cy="185.5" r="1.1" fill="#3f8fb2" fill-opacity="1"/>
<text x="256.7" y="188.0" font-size="7.2" text-anchor="start" font-weight="normal" font-style="normal" fill="#333" textLength="35.1" lengthAdjust="spacingAndGlyphs" stroke="#333" stroke-width="0.15" stroke-opacity="0.6">Canakinumab</text>
<text x="7.3" y="204.2" font-size="10.4" text-anchor="start" font-weight="bold" font-style="normal" fill="#111" textLength="7.3" lengthAdjust="spacingAndGlyphs" stroke="#111" stroke-width="0.45">B</text>
<text x="148.1" y="205.1" font-size="7.7" text-anchor="start" font-weight="normal" font-style="normal" fill="#231f20" textLength="175.6" lengthAdjust="spacingAndGlyphs" stroke="#231f20" stroke-width="0.15" stroke-opacity="0.6">Hb levels in patients with CH mutations by BL anemia</text>
<line x1="45" y1="210.4" x2="45" y2="324.2" stroke="#3c3c3c" stroke-width="1.3"/>
<line x1="44.4" y1="323.6" x2="426.8" y2="323.6" stroke="#3c3c3c" stroke-width="1.3"/>
<line x1="42.3" y1="219.4" x2="45" y2="219.4" stroke="#3c3c3c" stroke-width="1.0"/>
<text x="39" y="221.6" font-size="6.4" text-anchor="end" font-weight="normal" font-style="normal" fill="#333" textLength="10.4" lengthAdjust="spacingAndGlyphs" stroke="#333" stroke-width="0.15" stroke-opacity="0.6">155</text>
<line x1="42.3" y1="242.2" x2="45" y2="242.2" stroke="#3c3c3c" stroke-width="1.0"/>
<text x="39" y="244.39999999999998" font-size="6.4" text-anchor="end" font-weight="normal" font-style="normal" fill="#333" textLength="10.4" lengthAdjust="spacingAndGlyphs" stroke="#333" stroke-width="0.15" stroke-opacity="0.6">150</text>
<line x1="42.3" y1="265.4" x2="45" y2="265.4" stroke="#3c3c3c" stroke-width="1.0"/>
<text x="39" y="267.59999999999997" font-size="6.4" text-anchor="end" font-weight="normal" font-style="normal" fill="#333" textLength="10.4" lengthAdjust="spacingAndGlyphs" stroke="#333" stroke-width="0.15" stroke-opacity="0.6">145</text>
<line x1="42.3" y1="288.3" x2="45" y2="288.3" stroke="#3c3c3c" stroke-width="1.0"/>
<text x="39" y="290.5" font-size="6.4" text-anchor="end" font-weight="normal" font-style="normal" fill="#333" textLength="10.4" lengthAdjust="spacingAndGlyphs" stroke="#333" stroke-width="0.15" stroke-opacity="0.6">140</text>
<line x1="42.3" y1="311.4" x2="45" y2="311.4" stroke="#3c3c3c" stroke-width="1.0"/>
<text x="39" y="313.59999999999997" font-size="6.4" text-anchor="end" font-weight="normal" font-style="normal" fill="#333" textLength="10.4" lengthAdjust="spacingAndGlyphs" stroke="#333" stroke-width="0.15" stroke-opacity="0.6">135</text>
<line x1="68.8" y1="323.6" x2="68.8" y2="326.4" stroke="#3c3c3c" stroke-width="1.0"/>
<text x="68.8" y="335.3" font-size="6.4" text-anchor="middle" font-weight="normal" font-style="normal" fill="#333" stroke="#333" stroke-width="0.15" stroke-opacity="0.6">0</text>
<line x1="138.4" y1="323.6" x2="138.4" y2="326.4" stroke="#3c3c3c" stroke-width="1.0"/>
<text x="138.4" y="335.3" font-size="6.4" text-anchor="middle" font-weight="normal" font-style="normal" fill="#333" stroke="#333" stroke-width="0.15" stroke-opacity="0.6">5</text>
<line x1="207.9" y1="323.6" x2="207.9" y2="326.4" stroke="#3c3c3c" stroke-width="1.0"/>
<text x="207.9" y="335.3" font-size="6.4" text-anchor="middle" font-weight="normal" font-style="normal" fill="#333" stroke="#333" stroke-width="0.15" stroke-opacity="0.6">10</text>
<line x1="277.9" y1="323.6" x2="277.9" y2="326.4" stroke="#3c3c3c" stroke-width="1.0"/>
<text x="277.9" y="335.3" font-size="6.4" text-anchor="middle" font-weight="normal" font-style="normal" fill="#333" stroke="#333" stroke-width="0.15" stroke-opacity="0.6">15</text>
<line x1="346.9" y1="323.6" x2="346.9" y2="326.4" stroke="#3c3c3c" stroke-width="1.0"/>
<text x="346.9" y="335.3" font-size="6.4" text-anchor="middle" font-weight="normal" font-style="normal" fill="#333" stroke="#333" stroke-width="0.15" stroke-opacity="0.6">20</text>
<line x1="416.3" y1="323.6" x2="416.3" y2="326.4" stroke="#3c3c3c" stroke-width="1.0"/>
<text x="416.3" y="335.3" font-size="6.4" text-anchor="middle" font-weight="normal" font-style="normal" fill="#333" stroke="#333" stroke-width="0.15" stroke-opacity="0.6">25</text>
<text x="23.3" y="267.2" font-size="7.6" text-anchor="middle" font-weight="normal" font-style="normal" fill="#333" textLength="68.8" lengthAdjust="spacingAndGlyphs" transform="rotate(-90 23.3 267.2)" stroke="none">LSmean (95% CI) Hb (g/L)</text>
<line x1="72.7" y1="275.4" x2="72.7" y2="289.2" stroke="#bcb8cf" stroke-width="1.0"/>
<line x1="79.6" y1="276" x2="79.6" y2="288.5" stroke="#bcb8cf" stroke-width="1.0"/>
<line x1="93.8" y1="269.7" x2="93.8" y2="282.3" stroke="#bcb8cf" stroke-width="1.0"/>
<line x1="114.2" y1="265.4" x2="114.2" y2="279.2" stroke="#bcb8cf" stroke-width="1.0"/>
<line x1="156" y1="271" x2="156" y2="286.3" stroke="#bcb8cf" stroke-width="1.0"/>
<line x1="197.7" y1="277.7" x2="197.7" y2="294" stroke="#bcb8cf" stroke-width="1.0"/>
<line x1="239.2" y1="271.2" x2="239.2" y2="286.5" stroke="#bcb8cf" stroke-width="1.0"/>
<line x1="322.2" y1="277" x2="322.2" y2="292" stroke="#bcb8cf" stroke-width="1.0"/>
<line x1="406.3" y1="275.8" x2="406.3" y2="292" stroke="#bcb8cf" stroke-width="1.0"/>
<polyline points="72.7,281.2 79.6,283.4 93.8,275.8 114.2,271.8 156,278.1 197.7,285.4 239.2,278.7 322.2,284.6 406.3,283.9" fill="none" stroke="#b3aecb" stroke-width="1.0" stroke-opacity="1" stroke-linejoin="round"/>
<circle cx="72.7" cy="281.2" r="2.0" fill="#958dc0" fill-opacity="1"/>
<circle cx="79.6" cy="283.4" r="2.0" fill="#958dc0" fill-opacity="1"/>
<circle cx="93.8" cy="275.8" r="2.0" fill="#958dc0" fill-opacity="1"/>
<circle cx="114.2" cy="271.8" r="2.0" fill="#958dc0" fill-opacity="1"/>
<circle cx="156" cy="278.1" r="2.0" fill="#958dc0" fill-opacity="1"/>
<circle cx="197.7" cy="285.4" r="2.0" fill="#958dc0" fill-opacity="1"/>
<circle cx="239.2" cy="278.7" r="2.0" fill="#958dc0" fill-opacity="1"/>
<circle cx="322.2" cy="284.6" r="2.0" fill="#958dc0" fill-opacity="1"/>
<circle cx="406.3" cy="283.9" r="2.0" fill="#958dc0" fill-opacity="1"/>
<line x1="65.8" y1="287.7" x2="65.8" y2="318.9" stroke="#7d879c" stroke-width="1.0"/>
<line x1="73.2" y1="276.2" x2="73.2" y2="311.8" stroke="#7d879c" stroke-width="1.0"/>
<line x1="86.5" y1="266.2" x2="86.5" y2="297.7" stroke="#7d879c" stroke-width="1.0"/>
<line x1="107.8" y1="242.3" x2="107.8" y2="274.6" stroke="#7d879c" stroke-width="1.0"/>
<line x1="148.8" y1="242.7" x2="148.8" y2="276.7" stroke="#7d879c" stroke-width="1.0"/>
<line x1="190.6" y1="240.2" x2="190.6" y2="273.8" stroke="#7d879c" stroke-width="1.0"/>
<line x1="231.9" y1="231.2" x2="231.9" y2="264.8" stroke="#7d879c" stroke-width="1.0"/>
<line x1="315" y1="228.5" x2="315" y2="263.1" stroke="#7d879c" stroke-width="1.0"/>
<line x1="398.5" y1="215.8" x2="398.5" y2="251.6" stroke="#7d879c" stroke-width="1.0"/>
<polyline points="65.8,302.6 73.2,296.9 86.5,281.5 107.8,258.6 148.8,259.8 190.6,256.9 231.9,247.9 315,246.3 398.5,233.1" fill="none" stroke="#55627e" stroke-width="1.0" stroke-opacity="1" stroke-linejoin="round"/>
<circle cx="65.8" cy="302.6" r="2.1" fill="#1b3560" fill-opacity="1"/>
<circle cx="73.2" cy="296.9" r="2.1" fill="#1b3560" fill-opacity="1"/>
<circle cx="86.5" cy="281.5" r="2.1" fill="#1b3560" fill-opacity="1"/>
<circle cx="107.8" cy="258.6" r="2.1" fill="#1b3560" fill-opacity="1"/>
<circle cx="148.8" cy="259.8" r="2.1" fill="#1b3560" fill-opacity="1"/>
<circle cx="190.6" cy="256.9" r="2.1" fill="#1b3560" fill-opacity="1"/>
<circle cx="231.9" cy="247.9" r="2.1" fill="#1b3560" fill-opacity="1"/>
<circle cx="315" cy="246.3" r="2.1" fill="#1b3560" fill-opacity="1"/>
<circle cx="398.5" cy="233.1" r="2.1" fill="#1b3560" fill-opacity="1"/>
<text x="352.7" y="232.4" font-size="6.3" text-anchor="start" font-weight="normal" font-style="normal" fill="#333" textLength="18.5" lengthAdjust="spacingAndGlyphs" stroke="#333" stroke-width="0.15" stroke-opacity="0.6">n = 39</text>
<text x="357.3" y="264.1" font-size="6.5" text-anchor="start" font-weight="normal" font-style="normal" fill="#333" textLength="27.1" lengthAdjust="spacingAndGlyphs" stroke="#333" stroke-width="0.15" stroke-opacity="0.6"><tspan font-style="italic">P</tspan> &lt; .0001</text>
<text x="359.7" y="292.9" font-size="6.3" text-anchor="start" font-weight="normal" font-style="normal" fill="#333" textLength="21.4" lengthAdjust="spacingAndGlyphs" stroke="#333" stroke-width="0.15" stroke-opacity="0.6">n = 182</text>
<text x="198.8" y="346.3" font-size="8.0" text-anchor="start" font-weight="normal" font-style="normal" fill="#222" textLength="73.7" lengthAdjust="spacingAndGlyphs" stroke="#222" stroke-width="0.2">Time post-treatment (months)</text>
<circle cx="180" cy="354.3" r="1.8" fill="#1b3560" fill-opacity="1"/>
<text x="185.5" y="356.4" font-size="6.4" text-anchor="start" font-weight="normal" font-style="normal" fill="#333" textLength="41.5" lengthAdjust="spacingAndGlyphs" stroke="#333" stroke-width="0.15" stroke-opacity="0.6">With BL anemia</text>
<circle cx="238" cy="354.3" r="1.8" fill="#958dc0" fill-opacity="1"/>
<text x="243" y="356.4" font-size="6.4" text-anchor="start" font-weight="normal" font-style="normal" fill="#333" textLength="50.8" lengthAdjust="spacingAndGlyphs" stroke="#333" stroke-width="0.15" stroke-opacity="0.6">Without BL anemia</text>
<text x="6.8" y="376.4" font-size="10.4" text-anchor="start" font-weight="bold" font-style="normal" fill="#111" textLength="7.7" lengthAdjust="spacingAndGlyphs" stroke="#111" stroke-width="0.45">C</text>
<text x="165.2" y="377.0" font-size="7.7" text-anchor="start" font-weight="normal" font-style="normal" fill="#231f20" textLength="189.3" lengthAdjust="spacingAndGlyphs" stroke="#231f20" stroke-width="0.15" stroke-opacity="0.6">Changes in Hb levels from BL by CH score and treatment</text>
<line x1="45.0" y1="393.8" x2="45.0" y2="506.04999999999995" stroke="#3c3c3c" stroke-width="1.3"/>
<line x1="44.35" y1="505.4" x2="137.6" y2="505.4" stroke="#3c3c3c" stroke-width="1.3"/>
<line x1="167.6" y1="393.8" x2="167.6" y2="506.04999999999995" stroke="#3c3c3c" stroke-width="1.3"/>
<line x1="166.95" y1="505.4" x2="260.2" y2="505.4" stroke="#3c3c3c" stroke-width="1.3"/>
<line x1="290.0" y1="393.8" x2="290.0" y2="506.04999999999995" stroke="#3c3c3c" stroke-width="1.3"/>
<line x1="289.35" y1="505.4" x2="382.6" y2="505.4" stroke="#3c3c3c" stroke-width="1.3"/>
<line x1="412.5" y1="393.8" x2="412.5" y2="506.04999999999995" stroke="#3c3c3c" stroke-width="1.3"/>
<line x1="411.85" y1="505.4" x2="513.5" y2="505.4" stroke="#3c3c3c" stroke-width="1.3"/>
<rect x="51.5" y="452.3" width="38.0" height="1.0" fill="#c8002a"/>
<rect x="93.7" y="443.1" width="37.999999999999986" height="9.199999999999989" fill="#35a8e0"/>
<line x1="45.0" y1="452.3" x2="138.0" y2="452.3" stroke="#222" stroke-width="1.0"/>
<line x1="70.1" y1="451.0" x2="70.1" y2="454.4" stroke="#7a7a7a" stroke-width="1.0"/>
<line x1="112.30000000000001" y1="442.0" x2="112.30000000000001" y2="444.2" stroke="#7a7a7a" stroke-width="1.0"/>
<line x1="73.0" y1="505.4" x2="73.0" y2="508.2" stroke="#3c3c3c" stroke-width="1.0"/>
<line x1="112.3" y1="505.4" x2="112.3" y2="508.2" stroke="#3c3c3c" stroke-width="1.0"/>
<text x="73.2" y="516.8" font-size="6.4" text-anchor="middle" font-weight="normal" font-style="normal" fill="#333" textLength="21" lengthAdjust="spacingAndGlyphs" stroke="#333" stroke-width="0.15" stroke-opacity="0.6">Placebo</text>
<text x="112.6" y="516.8" font-size="6.4" text-anchor="middle" font-weight="normal" font-style="normal" fill="#333" textLength="35.5" lengthAdjust="spacingAndGlyphs" stroke="#333" stroke-width="0.15" stroke-opacity="0.6">Canakinumab</text>
<rect x="174.1" y="452.3" width="38.0" height="3.1999999999999886" fill="#c8002a"/>
<rect x="216.3" y="441.0" width="38.0" height="11.300000000000011" fill="#35a8e0"/>
<line x1="167.6" y1="452.3" x2="260.6" y2="452.3" stroke="#222" stroke-width="1.0"/>
<line x1="192.7" y1="449.6" x2="192.7" y2="462.5" stroke="#7a7a7a" stroke-width="1.0"/>
<line x1="234.9" y1="436.7" x2="234.9" y2="446.1" stroke="#7a7a7a" stroke-width="1.0"/>
<line x1="192.6" y1="505.4" x2="192.6" y2="508.2" stroke="#3c3c3c" stroke-width="1.0"/>
<line x1="234.6" y1="505.4" x2="234.6" y2="508.2" stroke="#3c3c3c" stroke-width="1.0"/>
<text x="192.79999999999998" y="516.8" font-size="6.4" text-anchor="middle" font-weight="normal" font-style="normal" fill="#333" textLength="21" lengthAdjust="spacingAndGlyphs" stroke="#333" stroke-width="0.15" stroke-opacity="0.6">Placebo</text>
<text x="234.9" y="516.8" font-size="6.4" text-anchor="middle" font-weight="normal" font-style="normal" fill="#333" textLength="35.5" lengthAdjust="spacingAndGlyphs" stroke="#333" stroke-width="0.15" stroke-opacity="0.6">Canakinumab</text>
<rect x="296.5" y="452.3" width="38.0" height="9.5" fill="#c8002a"/>
<rect x="338.7" y="445.0" width="38.0" height="7.300000000000011" fill="#35a8e0"/>
<line x1="290.0" y1="452.3" x2="383.0" y2="452.3" stroke="#222" stroke-width="1.0"/>
<line x1="315.1" y1="450.1" x2="315.1" y2="473.5" stroke="#7a7a7a" stroke-width="1.0"/>
<line x1="357.3" y1="437.9" x2="357.3" y2="452.0" stroke="#7a7a7a" stroke-width="1.0"/>
<line x1="315.0" y1="505.4" x2="315.0" y2="508.2" stroke="#3c3c3c" stroke-width="1.0"/>
<line x1="357.1" y1="505.4" x2="357.1" y2="508.2" stroke="#3c3c3c" stroke-width="1.0"/>
<text x="315.2" y="516.8" font-size="6.4" text-anchor="middle" font-weight="normal" font-style="normal" fill="#333" textLength="21" lengthAdjust="spacingAndGlyphs" stroke="#333" stroke-width="0.15" stroke-opacity="0.6">Placebo</text>
<text x="357.40000000000003" y="516.8" font-size="6.4" text-anchor="middle" font-weight="normal" font-style="normal" fill="#333" textLength="35.5" lengthAdjust="spacingAndGlyphs" stroke="#333" stroke-width="0.15" stroke-opacity="0.6">Canakinumab</text>
<rect x="419.0" y="452.3" width="38.0" height="10.199999999999989" fill="#c8002a"/>
<rect x="461.2" y="450.8" width="38.0" height="1.5" fill="#35a8e0"/>
<line x1="412.5" y1="452.3" x2="505.5" y2="452.3" stroke="#222" stroke-width="1.0"/>
<line x1="437.6" y1="427.6" x2="437.6" y2="503.5" stroke="#7a7a7a" stroke-width="1.0"/>
<line x1="479.8" y1="400.0" x2="479.8" y2="505.4" stroke="#7a7a7a" stroke-width="1.0"/>
<line x1="437.3" y1="505.4" x2="437.3" y2="508.2" stroke="#3c3c3c" stroke-width="1.0"/>
<line x1="479.5" y1="505.4" x2="479.5" y2="508.2" stroke="#3c3c3c" stroke-width="1.0"/>
<text x="437.5" y="516.8" font-size="6.4" text-anchor="middle" font-weight="normal" font-style="normal" fill="#333" textLength="21" lengthAdjust="spacingAndGlyphs" stroke="#333" stroke-width="0.15" stroke-opacity="0.6">Placebo</text>
<text x="479.8" y="516.8" font-size="6.4" text-anchor="middle" font-weight="normal" font-style="normal" fill="#333" textLength="35.5" lengthAdjust="spacingAndGlyphs" stroke="#333" stroke-width="0.15" stroke-opacity="0.6">Canakinumab</text>
<text x="73.1" y="504.6" font-size="6.4" text-anchor="middle" font-weight="normal" font-style="normal" fill="#333" textLength="22.5" lengthAdjust="spacingAndGlyphs" stroke="#333" stroke-width="0.15" stroke-opacity="0.6">N = 892</text>
<text x="112.39999999999999" y="504.6" font-size="6.4" text-anchor="middle" font-weight="normal" font-style="normal" fill="#333" textLength="25.6" lengthAdjust="spacingAndGlyphs" stroke="#333" stroke-width="0.15" stroke-opacity="0.6">N = 1798</text>
<text x="51.1" y="408.8" font-size="6.4" text-anchor="start" font-weight="normal" font-style="normal" fill="#333" textLength="23.1" lengthAdjust="spacingAndGlyphs" stroke="#333" stroke-width="0.15" stroke-opacity="0.6"><tspan font-style="italic">P</tspan> &lt; .001</text>
<text x="192.7" y="504.6" font-size="6.4" text-anchor="middle" font-weight="normal" font-style="normal" fill="#333" textLength="19.6" lengthAdjust="spacingAndGlyphs" stroke="#333" stroke-width="0.15" stroke-opacity="0.6">N = 59</text>
<text x="234.7" y="504.6" font-size="6.4" text-anchor="middle" font-weight="normal" font-style="normal" fill="#333" textLength="23" lengthAdjust="spacingAndGlyphs" stroke="#333" stroke-width="0.15" stroke-opacity="0.6">N = 118</text>
<text x="172.2" y="408.8" font-size="6.4" text-anchor="start" font-weight="normal" font-style="normal" fill="#333" textLength="22.9" lengthAdjust="spacingAndGlyphs" stroke="#333" stroke-width="0.15" stroke-opacity="0.6"><tspan font-style="italic">P</tspan> &lt; .001</text>
<text x="315.1" y="504.6" font-size="6.4" text-anchor="middle" font-weight="normal" font-style="normal" fill="#333" textLength="18.8" lengthAdjust="spacingAndGlyphs" stroke="#333" stroke-width="0.15" stroke-opacity="0.6">N = 18</text>
<text x="357.20000000000005" y="504.6" font-size="6.4" text-anchor="middle" font-weight="normal" font-style="normal" fill="#333" textLength="18.7" lengthAdjust="spacingAndGlyphs" stroke="#333" stroke-width="0.15" stroke-opacity="0.6">N = 62</text>
<text x="294.5" y="408.8" font-size="6.4" text-anchor="start" font-weight="normal" font-style="normal" fill="#333" textLength="23" lengthAdjust="spacingAndGlyphs" stroke="#333" stroke-width="0.15" stroke-opacity="0.6"><tspan font-style="italic">P</tspan> = .012</text>
<text x="437.40000000000003" y="504.6" font-size="6.4" text-anchor="middle" font-weight="normal" font-style="normal" fill="#333" textLength="15.7" lengthAdjust="spacingAndGlyphs" stroke="#333" stroke-width="0.15" stroke-opacity="0.6">N = 2</text>
<text x="479.6" y="504.6" font-size="6.4" text-anchor="middle" font-weight="normal" font-style="normal" fill="#333" textLength="15" lengthAdjust="spacingAndGlyphs" stroke="#333" stroke-width="0.15" stroke-opacity="0.6">N = 1</text>
<text x="415.9" y="408.8" font-size="6.4" text-anchor="start" font-weight="normal" font-style="normal" fill="#333" textLength="24.4" lengthAdjust="spacingAndGlyphs" stroke="#333" stroke-width="0.15" stroke-opacity="0.6"><tspan font-style="italic">P</tspan> = .694</text>
<line x1="42.0" y1="396.1" x2="45.0" y2="396.1" stroke="#3c3c3c" stroke-width="1.0"/>
<text x="39" y="398.3" font-size="6.4" text-anchor="end" font-weight="normal" font-style="normal" fill="#333" stroke="#333" stroke-width="0.15" stroke-opacity="0.6">20</text>
<line x1="42.0" y1="424.4" x2="45.0" y2="424.4" stroke="#3c3c3c" stroke-width="1.0"/>
<text x="39" y="426.59999999999997" font-size="6.4" text-anchor="end" font-weight="normal" font-style="normal" fill="#333" stroke="#333" stroke-width="0.15" stroke-opacity="0.6">10</text>
<line x1="42.0" y1="452.3" x2="45.0" y2="452.3" stroke="#3c3c3c" stroke-width="1.0"/>
<text x="39" y="454.5" font-size="6.4" text-anchor="end" font-weight="normal" font-style="normal" fill="#333" stroke="#333" stroke-width="0.15" stroke-opacity="0.6">0</text>
<line x1="42.0" y1="481.1" x2="45.0" y2="481.1" stroke="#3c3c3c" stroke-width="1.0"/>
<text x="39" y="483.3" font-size="6.4" text-anchor="end" font-weight="normal" font-style="normal" fill="#333" stroke="#333" stroke-width="0.15" stroke-opacity="0.6">&#8722;10</text>
<text x="76.1" y="388.7" font-size="8.0" text-anchor="start" font-weight="normal" font-style="normal" fill="#231f20" textLength="31.2" lengthAdjust="spacingAndGlyphs" stroke="#231f20" stroke-width="0.15" stroke-opacity="0.6">No CHIP</text>
<text x="200.4" y="390.2" font-size="8.0" text-anchor="start" font-weight="normal" font-style="normal" fill="#231f20" textLength="26.7" lengthAdjust="spacingAndGlyphs" stroke="#231f20" stroke-width="0.15" stroke-opacity="0.6">Low-risk</text>
<text x="309.2" y="390.2" font-size="8.0" text-anchor="start" font-weight="normal" font-style="normal" fill="#231f20" textLength="53.9" lengthAdjust="spacingAndGlyphs" stroke="#231f20" stroke-width="0.15" stroke-opacity="0.6">Intermediate-risk</text>
<text x="449" y="390.2" font-size="8.0" text-anchor="start" font-weight="normal" font-style="normal" fill="#231f20" textLength="28.5" lengthAdjust="spacingAndGlyphs" stroke="#231f20" stroke-width="0.15" stroke-opacity="0.6">High-risk</text>
<line x1="45.0" y1="532.4" x2="45.0" y2="643.35" stroke="#3c3c3c" stroke-width="1.3"/>
<line x1="44.35" y1="642.7" x2="137.6" y2="642.7" stroke="#3c3c3c" stroke-width="1.3"/>
<line x1="167.6" y1="532.4" x2="167.6" y2="643.35" stroke="#3c3c3c" stroke-width="1.3"/>
<line x1="166.95" y1="642.7" x2="260.2" y2="642.7" stroke="#3c3c3c" stroke-width="1.3"/>
<line x1="290.0" y1="532.4" x2="290.0" y2="643.35" stroke="#3c3c3c" stroke-width="1.3"/>
<line x1="289.35" y1="642.7" x2="382.6" y2="642.7" stroke="#3c3c3c" stroke-width="1.3"/>
<line x1="412.5" y1="532.4" x2="412.5" y2="643.35" stroke="#3c3c3c" stroke-width="1.3"/>
<line x1="411.85" y1="642.7" x2="505.1" y2="642.7" stroke="#3c3c3c" stroke-width="1.3"/>
<rect x="51.5" y="578.6" width="38.0" height="3.0" fill="#c8002a"/>
<rect x="93.7" y="572.6" width="37.999999999999986" height="9.0" fill="#35a8e0"/>
<line x1="45.0" y1="581.6" x2="138.0" y2="581.6" stroke="#222" stroke-width="1.0"/>
<line x1="70.1" y1="575.5" x2="70.1" y2="580.0" stroke="#7a7a7a" stroke-width="1.0"/>
<line x1="112.30000000000001" y1="570.0" x2="112.30000000000001" y2="574.0" stroke="#7a7a7a" stroke-width="1.0"/>
<line x1="73.0" y1="642.7" x2="73.0" y2="645.5" stroke="#3c3c3c" stroke-width="1.0"/>
<line x1="112.3" y1="642.7" x2="112.3" y2="645.5" stroke="#3c3c3c" stroke-width="1.0"/>
<text x="73.2" y="654.1" font-size="6.4" text-anchor="middle" font-weight="normal" font-style="normal" fill="#333" textLength="21" lengthAdjust="spacingAndGlyphs" stroke="#333" stroke-width="0.15" stroke-opacity="0.6">Placebo</text>
<text x="112.6" y="654.1" font-size="6.4" text-anchor="middle" font-weight="normal" font-style="normal" fill="#333" textLength="35.5" lengthAdjust="spacingAndGlyphs" stroke="#333" stroke-width="0.15" stroke-opacity="0.6">Canakinumab</text>
<rect x="174.1" y="580.0" width="38.0" height="1.6000000000000227" fill="#c8002a"/>
<rect x="216.3" y="570.9" width="38.0" height="10.700000000000045" fill="#35a8e0"/>
<line x1="167.6" y1="581.6" x2="260.6" y2="581.6" stroke="#222" stroke-width="1.0"/>
<line x1="192.7" y1="571.9" x2="192.7" y2="591.2" stroke="#7a7a7a" stroke-width="1.0"/>
<line x1="234.9" y1="565.7" x2="234.9" y2="575.4" stroke="#7a7a7a" stroke-width="1.0"/>
<line x1="192.6" y1="642.7" x2="192.6" y2="645.5" stroke="#3c3c3c" stroke-width="1.0"/>
<line x1="234.6" y1="642.7" x2="234.6" y2="645.5" stroke="#3c3c3c" stroke-width="1.0"/>
<text x="192.79999999999998" y="654.1" font-size="6.4" text-anchor="middle" font-weight="normal" font-style="normal" fill="#333" textLength="21" lengthAdjust="spacingAndGlyphs" stroke="#333" stroke-width="0.15" stroke-opacity="0.6">Placebo</text>
<text x="234.9" y="654.1" font-size="6.4" text-anchor="middle" font-weight="normal" font-style="normal" fill="#333" textLength="35.5" lengthAdjust="spacingAndGlyphs" stroke="#333" stroke-width="0.15" stroke-opacity="0.6">Canakinumab</text>
<rect x="338.7" y="577.3" width="38.0" height="4.300000000000068" fill="#35a8e0"/>
<line x1="290.0" y1="581.6" x2="383.0" y2="581.6" stroke="#222" stroke-width="1.0"/>
<line x1="315.1" y1="568.3" x2="315.1" y2="595.1" stroke="#7a7a7a" stroke-width="1.0"/>
<line x1="357.3" y1="569.8" x2="357.3" y2="584.8" stroke="#7a7a7a" stroke-width="1.0"/>
<line x1="315.0" y1="642.7" x2="315.0" y2="645.5" stroke="#3c3c3c" stroke-width="1.0"/>
<line x1="357.1" y1="642.7" x2="357.1" y2="645.5" stroke="#3c3c3c" stroke-width="1.0"/>
<text x="315.2" y="654.1" font-size="6.4" text-anchor="middle" font-weight="normal" font-style="normal" fill="#333" textLength="21" lengthAdjust="spacingAndGlyphs" stroke="#333" stroke-width="0.15" stroke-opacity="0.6">Placebo</text>
<text x="357.40000000000003" y="654.1" font-size="6.4" text-anchor="middle" font-weight="normal" font-style="normal" fill="#333" textLength="35.5" lengthAdjust="spacingAndGlyphs" stroke="#333" stroke-width="0.15" stroke-opacity="0.6">Canakinumab</text>
<rect x="419.0" y="568.9" width="38.0" height="12.700000000000045" fill="#c8002a"/>
<rect x="461.2" y="581.6" width="38.0" height="24.199999999999932" fill="#35a8e0"/>
<line x1="412.5" y1="581.6" x2="505.5" y2="581.6" stroke="#222" stroke-width="1.0"/>
<line x1="437.6" y1="537.2" x2="437.6" y2="599.8" stroke="#7a7a7a" stroke-width="1.0"/>
<line x1="479.8" y1="574.7" x2="479.8" y2="639.1" stroke="#7a7a7a" stroke-width="1.0"/>
<line x1="437.3" y1="642.7" x2="437.3" y2="645.5" stroke="#3c3c3c" stroke-width="1.0"/>
<line x1="479.5" y1="642.7" x2="479.5" y2="645.5" stroke="#3c3c3c" stroke-width="1.0"/>
<text x="437.5" y="654.1" font-size="6.4" text-anchor="middle" font-weight="normal" font-style="normal" fill="#333" textLength="21" lengthAdjust="spacingAndGlyphs" stroke="#333" stroke-width="0.15" stroke-opacity="0.6">Placebo</text>
<text x="479.8" y="654.1" font-size="6.4" text-anchor="middle" font-weight="normal" font-style="normal" fill="#333" textLength="35.5" lengthAdjust="spacingAndGlyphs" stroke="#333" stroke-width="0.15" stroke-opacity="0.6">Canakinumab</text>
<text x="73.1" y="641.9" font-size="6.4" text-anchor="middle" font-weight="normal" font-style="normal" fill="#333" textLength="21.5" lengthAdjust="spacingAndGlyphs" stroke="#333" stroke-width="0.15" stroke-opacity="0.6">N = 729</text>
<text x="112.39999999999999" y="641.9" font-size="6.4" text-anchor="middle" font-weight="normal" font-style="normal" fill="#333" textLength="27.4" lengthAdjust="spacingAndGlyphs" stroke="#333" stroke-width="0.15" stroke-opacity="0.6">N = 1476</text>
<text x="49" y="544.2" font-size="6.4" text-anchor="start" font-weight="normal" font-style="normal" fill="#333" textLength="23.2" lengthAdjust="spacingAndGlyphs" stroke="#333" stroke-width="0.15" stroke-opacity="0.6"><tspan font-style="italic">P</tspan> &lt; .001</text>
<text x="192.7" y="641.9" font-size="6.4" text-anchor="middle" font-weight="normal" font-style="normal" fill="#333" textLength="18.6" lengthAdjust="spacingAndGlyphs" stroke="#333" stroke-width="0.15" stroke-opacity="0.6">N = 42</text>
<text x="234.7" y="641.9" font-size="6.4" text-anchor="middle" font-weight="normal" font-style="normal" fill="#333" textLength="18.6" lengthAdjust="spacingAndGlyphs" stroke="#333" stroke-width="0.15" stroke-opacity="0.6">N = 91</text>
<text x="171.8" y="544.2" font-size="6.4" text-anchor="start" font-weight="normal" font-style="normal" fill="#333" textLength="22.5" lengthAdjust="spacingAndGlyphs" stroke="#333" stroke-width="0.15" stroke-opacity="0.6"><tspan font-style="italic">P</tspan> = .074</text>
<text x="315.1" y="641.9" font-size="6.4" text-anchor="middle" font-weight="normal" font-style="normal" fill="#333" textLength="18.8" lengthAdjust="spacingAndGlyphs" stroke="#333" stroke-width="0.15" stroke-opacity="0.6">N = 16</text>
<text x="357.20000000000005" y="641.9" font-size="6.4" text-anchor="middle" font-weight="normal" font-style="normal" fill="#333" textLength="18.7" lengthAdjust="spacingAndGlyphs" stroke="#333" stroke-width="0.15" stroke-opacity="0.6">N = 52</text>
<text x="294" y="544.2" font-size="6.4" text-anchor="start" font-weight="normal" font-style="normal" fill="#333" textLength="22.9" lengthAdjust="spacingAndGlyphs" stroke="#333" stroke-width="0.15" stroke-opacity="0.6"><tspan font-style="italic">P</tspan> = .597</text>
<text x="437.40000000000003" y="641.9" font-size="6.4" text-anchor="middle" font-weight="normal" font-style="normal" fill="#333" textLength="15.5" lengthAdjust="spacingAndGlyphs" stroke="#333" stroke-width="0.15" stroke-opacity="0.6">N = 3</text>
<text x="479.6" y="641.9" font-size="6.4" text-anchor="middle" font-weight="normal" font-style="normal" fill="#333" textLength="16.4" lengthAdjust="spacingAndGlyphs" stroke="#333" stroke-width="0.15" stroke-opacity="0.6">N = 3</text>
<text x="414" y="544.2" font-size="6.4" text-anchor="start" font-weight="normal" font-style="normal" fill="#333" textLength="22.5" lengthAdjust="spacingAndGlyphs" stroke="#333" stroke-width="0.15" stroke-opacity="0.6"><tspan font-style="italic">P</tspan> = .101</text>
<line x1="42.0" y1="557" x2="45.0" y2="557" stroke="#3c3c3c" stroke-width="1.0"/>
<text x="39" y="559.2" font-size="6.4" text-anchor="end" font-weight="normal" font-style="normal" fill="#333" stroke="#333" stroke-width="0.15" stroke-opacity="0.6">10</text>
<line x1="42.0" y1="581.5" x2="45.0" y2="581.5" stroke="#3c3c3c" stroke-width="1.0"/>
<text x="39" y="583.7" font-size="6.4" text-anchor="end" font-weight="normal" font-style="normal" fill="#333" stroke="#333" stroke-width="0.15" stroke-opacity="0.6">0</text>
<line x1="42.0" y1="606.1" x2="45.0" y2="606.1" stroke="#3c3c3c" stroke-width="1.0"/>
<text x="39" y="608.3000000000001" font-size="6.4" text-anchor="end" font-weight="normal" font-style="normal" fill="#333" stroke="#333" stroke-width="0.15" stroke-opacity="0.6">&#8722;10</text>
<line x1="42.0" y1="631.3" x2="45.0" y2="631.3" stroke="#3c3c3c" stroke-width="1.0"/>
<text x="39" y="633.5" font-size="6.4" text-anchor="end" font-weight="normal" font-style="normal" fill="#333" stroke="#333" stroke-width="0.15" stroke-opacity="0.6">&#8722;20</text>
<text x="77.6" y="533.8" font-size="8.0" text-anchor="start" font-weight="normal" font-style="normal" fill="#231f20" textLength="29.4" lengthAdjust="spacingAndGlyphs" stroke="#231f20" stroke-width="0.15" stroke-opacity="0.6">No CHIP</text>
<text x="200.8" y="533.8" font-size="8.0" text-anchor="start" font-weight="normal" font-style="normal" fill="#231f20" textLength="26.8" lengthAdjust="spacingAndGlyphs" stroke="#231f20" stroke-width="0.15" stroke-opacity="0.6">Low-risk</text>
<text x="309.6" y="533.8" font-size="8.0" text-anchor="start" font-weight="normal" font-style="normal" fill="#231f20" textLength="53.7" lengthAdjust="spacingAndGlyphs" stroke="#231f20" stroke-width="0.15" stroke-opacity="0.6">Intermediate-risk</text>
<text x="444.6" y="533.8" font-size="8.0" text-anchor="start" font-weight="normal" font-style="normal" fill="#231f20" textLength="28.8" lengthAdjust="spacingAndGlyphs" stroke="#231f20" stroke-width="0.15" stroke-opacity="0.6">High-risk</text>
<text x="12.7" y="449" font-size="7.2" text-anchor="middle" font-weight="normal" font-style="normal" fill="#333" textLength="94.7" lengthAdjust="spacingAndGlyphs" transform="rotate(-90 12.7 449)" stroke="#333" stroke-width="0.15" stroke-opacity="0.6">Mean (95% CI) change from BL to M3</text>
<text x="22.0" y="450" font-size="7.2" text-anchor="middle" font-weight="normal" font-style="normal" fill="#333" textLength="21.6" lengthAdjust="spacingAndGlyphs" transform="rotate(-90 22.0 450)" stroke="#333" stroke-width="0.15" stroke-opacity="0.6">Hb (g/L)</text>
<text x="12.7" y="586.4" font-size="7.2" text-anchor="middle" font-weight="normal" font-style="normal" fill="#333" textLength="100.7" lengthAdjust="spacingAndGlyphs" transform="rotate(-90 12.7 586.4)" stroke="#333" stroke-width="0.15" stroke-opacity="0.6">Mean (95% CI) change from BL to M12</text>
<text x="22.0" y="585.6" font-size="7.2" text-anchor="middle" font-weight="normal" font-style="normal" fill="#333" textLength="20.8" lengthAdjust="spacingAndGlyphs" transform="rotate(-90 22.0 585.6)" stroke="#333" stroke-width="0.15" stroke-opacity="0.6">Hb (g/L)</text>
</svg></body></html>
